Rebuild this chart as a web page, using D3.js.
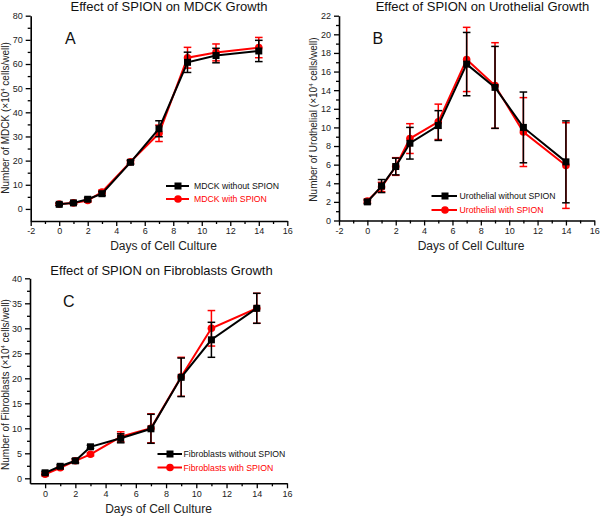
<!DOCTYPE html>
<html><head><meta charset="utf-8">
<script src="https://cdn.jsdelivr.net/npm/d3@7"></script>
<style>
body{margin:0;background:#fff}
svg{display:block;font-family:"Liberation Sans",Arial,Helvetica,sans-serif}
</style>
</head><body><svg id="c" width="600" height="516"></svg>
<script>
// ---- data ----
const days = [0, 1, 2, 3, 5, 7, 9, 11, 14];

const mdckWithout    = [1.9, 2.5, 4.0, 6.3, 19.3, 33.2, 60.7, 63.5, 65.4];
const mdckWithoutErr = [0.5, 0.5, 0.7, 0.8, 0.8, 3.3, 4.2, 3.0, 4.4];
const mdckWith       = [2.0, 2.5, 3.5, 7.0, 19.5, 31.3, 62.6, 64.8, 66.8];
const mdckWithErr    = [0.5, 0.5, 0.7, 0.8, 0.7, 3.4, 4.3, 3.5, 4.2];

const uroWithout    = [2.0, 3.7, 5.8, 8.3, 10.2, 16.8, 14.3, 10.0, 6.3];
const uroWithoutErr = [0.2, 0.7, 0.9, 1.7, 1.6, 3.4, 4.4, 3.8, 4.4];
const uroWith       = [2.1, 3.6, 5.8, 8.8, 10.6, 17.3, 14.5, 9.5, 5.9];
const uroWithErr    = [0.2, 0.5, 0.95, 1.6, 1.9, 3.45, 4.6, 3.7, 4.6];

const fibWithout    = [1.1, 2.4, 3.5, 6.3, 8.0, 9.9, 20.2, 27.7, 34.0];
const fibWithoutErr = [0.3, 0.3, 0.4, 0.3, 0.9, 2.9, 3.85, 3.5, 3.0];
const fibWith       = [0.8, 2.1, 3.5, 4.8, 8.3, 10.0, 20.3, 30.0, 34.0];
const fibWithErr    = [0.3, 0.3, 0.4, 0.3, 1.0, 2.9, 3.9, 3.55, 3.0];

const titles = ["Effect of SPION on MDCK Growth", "Effect of SPION on Urothelial Growth", "Effect of SPION on Fibroblasts Growth"];
const yLabels = ["Number of MDCK  (×10", "Number of Urothelial (×10", "Number of Fibroblasts (×10"];
const xLabel = "Days of Cell Culture";
const letters = ["A", "B", "C"];
const legendA = ["MDCK without SPION", "MDCK with SPION"];
const legendB = ["Urothelial without SPION", "Urothelial with SPION"];
const legendC = ["Fibroblasts without SPION", "Fibroblasts with SPION"];

const xMajorAB = [-2, 0, 2, 4, 6, 8, 10, 12, 14, 16];
const xMinorAB = [-1, 1, 3, 5, 7, 9, 11, 13, 15];
const xMajorC = [0, 2, 4, 6, 8, 10, 12, 14, 16];
const xMinorC = [1, 3, 5, 7, 9, 11, 13, 15];
const yMajorA = [0, 10, 20, 30, 40, 50, 60, 70, 80];
const yMinorA = [5, 15, 25, 35, 45, 55, 65, 75];
const yMajorB = [0, 2, 4, 6, 8, 10, 12, 14, 16, 18, 20, 22];
const yMinorB = [1, 3, 5, 7, 9, 11, 13, 15, 17, 19, 21];
const yMajorC = [0, 5, 10, 15, 20, 25, 30, 35, 40];
const yMinorC = [2.5, 7.5, 12.5, 17.5, 22.5, 27.5, 32.5, 37.5];

const BLACK = "#000", RED = "#ff0000";
const svg = d3.select("#c");

const panels = [
  { title: titles[0], titleX: 169, titleY: 11, letter: letters[0], letterX: 65, letterY: 43.5,
    xDom: [-2, 16], xRange: [30.7, 287.3], yDom: [-5, 80], yRange: [221, 15.7],
    xMajor: xMajorAB, xMinor: xMinorAB, yMajor: yMajorA, yMinor: yMinorA,
    yLabel: yLabels[0], yLabX: 8.5, yLabY: 118, xLabX: 163.5, xLabY: 250,
    s0: mdckWithout, e0: mdckWithoutErr, s1: mdckWith, e1: mdckWithErr,
    legend: legendA, legX1: 166, legX2: 189, legM: 178, legT: 194, legY0: 186, legY1: 199 },
  { title: titles[1], titleX: 482.5, titleY: 11, letter: letters[1], letterX: 372.5, letterY: 43.5,
    xDom: [-2, 16], xRange: [339, 594.3], yDom: [0, 22], yRange: [220.5, 15.7],
    xMajor: xMajorAB, xMinor: xMinorAB, yMajor: yMajorB, yMinor: yMinorB,
    yLabel: yLabels[1], yLabX: 316.5, yLabY: 119.5, xLabX: 471, xLabY: 250,
    s0: uroWithout, e0: uroWithoutErr, s1: uroWith, e1: uroWithErr,
    legend: legendB, legX1: 431.5, legX2: 457, legM: 445, legT: 459.5, legY0: 196, legY1: 210 },
  { title: titles[2], titleX: 161.5, titleY: 275, letter: letters[2], letterX: 63, letterY: 306.7,
    xDom: [-1, 16], xRange: [30, 287], yDom: [-1, 40], yRange: [483.3, 278.3],
    xMajor: xMajorC, xMinor: xMinorC, yMajor: yMajorC, yMinor: yMinorC,
    yLabel: yLabels[2], yLabX: 8.5, yLabY: 384.5, xLabX: 158.5, xLabY: 513,
    s0: fibWithout, e0: fibWithoutErr, s1: fibWith, e1: fibWithErr,
    legend: legendC, legX1: 157.5, legX2: 182, legM: 170, legT: 183.5, legY0: 454, legY1: 467.5 }
];

const fmt = d => String(d);

function drawPanel(p) {
  const g = svg.append("g");
  const x = d3.scaleLinear().domain(p.xDom).range(p.xRange);
  const y = d3.scaleLinear().domain(p.yDom).range(p.yRange);
  const x0 = p.xRange[0], yb = p.yRange[0];

  // axes
  g.append("g").attr("transform", `translate(0,${yb})`)
    .call(d3.axisBottom(x).tickValues(p.xMajor).tickSize(5).tickSizeOuter(0).tickPadding(2).tickFormat(fmt));
  g.append("g").attr("transform", `translate(0,${yb})`)
    .call(d3.axisBottom(x).tickValues(p.xMinor).tickSize(3).tickSizeOuter(0).tickFormat(""))
    .select(".domain").remove();
  g.append("g").attr("transform", `translate(${x0},0)`)
    .call(d3.axisLeft(y).tickValues(p.yMajor).tickSize(5).tickSizeOuter(0).tickPadding(3).tickFormat(fmt));
  g.append("g").attr("transform", `translate(${x0},0)`)
    .call(d3.axisLeft(y).tickValues(p.yMinor).tickSize(3).tickSizeOuter(0).tickFormat(""))
    .select(".domain").remove();
  g.selectAll(".domain").attr("stroke", "#000").attr("stroke-width", 1.6);
  g.selectAll(".tick line").attr("stroke", "#000").attr("stroke-width", 1.3);
  g.selectAll(".tick text").attr("font-size", 9).attr("fill", "#222")
    .attr("font-family", '"Liberation Sans",Arial,sans-serif');

  // title & letter
  g.append("text").attr("x", p.titleX).attr("y", p.titleY).attr("text-anchor", "middle")
    .attr("font-size", 13).attr("fill", "#111").text(p.title);
  g.append("text").attr("x", p.letterX).attr("y", p.letterY)
    .attr("font-size", 16).attr("fill", "#111").text(p.letter);

  // axis labels
  g.append("text").attr("x", p.xLabX).attr("y", p.xLabY).attr("text-anchor", "middle")
    .attr("font-size", 12).attr("fill", "#222").text(xLabel);
  const yl = g.append("text").attr("transform", `translate(${p.yLabX},${p.yLabY}) rotate(-90)`)
    .attr("text-anchor", "middle").attr("font-size", 10).attr("fill", "#222");
  yl.append("tspan").text(p.yLabel);
  yl.append("tspan").attr("dy", -3.5).attr("font-size", 6).text("4");
  yl.append("tspan").attr("dy", 3.5).text(" cells/well)");

  const line = d3.line().x((d, i) => x(days[i])).y(d => y(d));

  function series(vals, errs, color, shape) {
    const sg = g.append("g");
    sg.append("path").datum(vals).attr("d", line).attr("fill", "none")
      .attr("stroke", color).attr("stroke-width", 2);
    const eb = sg.selectAll(".eb").data(vals).join("g");
    eb.append("line").attr("x1", (d, i) => x(days[i])).attr("x2", (d, i) => x(days[i]))
      .attr("y1", (d, i) => y(d - errs[i])).attr("y2", (d, i) => y(d + errs[i]))
      .attr("stroke", color).attr("stroke-width", 1.5);
    [-1, 1].forEach(s => {
      eb.append("line").attr("x1", (d, i) => x(days[i]) - 3.8).attr("x2", (d, i) => x(days[i]) + 3.8)
        .attr("y1", (d, i) => y(d + s * errs[i])).attr("y2", (d, i) => y(d + s * errs[i]))
        .attr("stroke", color).attr("stroke-width", 1.5);
    });
    if (shape === "square") {
      sg.selectAll(".m").data(vals).join("rect")
        .attr("x", (d, i) => x(days[i]) - 3.5).attr("y", d => y(d) - 3.5)
        .attr("width", 7).attr("height", 7).attr("fill", color);
    } else {
      sg.selectAll(".m").data(vals).join("circle")
        .attr("cx", (d, i) => x(days[i])).attr("cy", d => y(d)).attr("r", 3.8).attr("fill", color);
    }
  }
  series(p.s1, p.e1, RED, "circle");
  series(p.s0, p.e0, BLACK, "square");

  // legend
  const items = [
    { label: p.legend[0], color: BLACK, shape: "square", y: p.legY0 },
    { label: p.legend[1], color: RED, shape: "circle", y: p.legY1 }
  ];
  items.forEach(it => {
    g.append("line").attr("x1", p.legX1).attr("x2", p.legX2).attr("y1", it.y).attr("y2", it.y)
      .attr("stroke", it.color).attr("stroke-width", 2);
    if (it.shape === "square") {
      g.append("rect").attr("x", p.legM - 3.5).attr("y", it.y - 3.5).attr("width", 7).attr("height", 7).attr("fill", it.color);
    } else {
      g.append("circle").attr("cx", p.legM).attr("cy", it.y).attr("r", 3.8).attr("fill", it.color);
    }
    g.append("text").attr("x", p.legT).attr("y", it.y + 3.2).attr("font-size", 8.7)
      .attr("fill", it.color === BLACK ? "#111" : RED).text(it.label);
  });
}

panels.forEach(drawPanel);
</script>
</body></html>
